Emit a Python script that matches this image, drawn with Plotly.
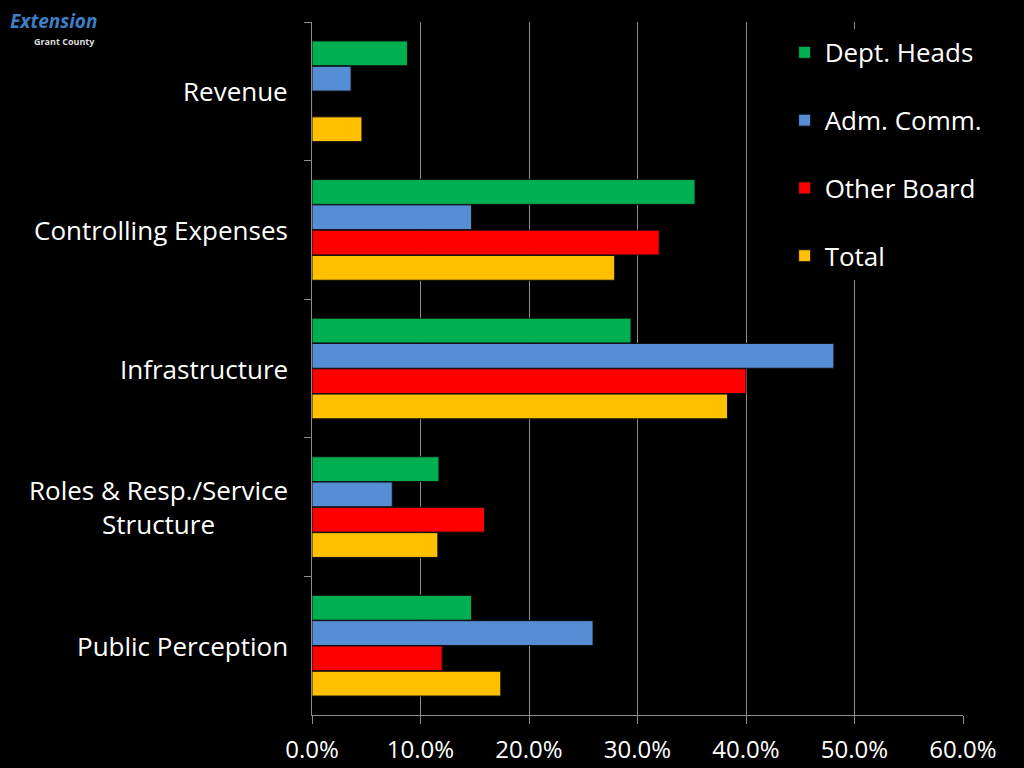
import plotly.graph_objects as go

categories = ["Revenue", "Controlling Expenses", "Infrastructure",
              "Roles & Resp./Service Structure", "Public Perception"]
category_labels = ["Revenue", "Controlling Expenses", "Infrastructure",
                   "Roles & Resp./Service<br>Structure", "Public Perception"]
series_names = ["Dept. Heads", "Adm. Comm.", "Other Board", "Total"]
dept_heads = [8.8, 35.3, 29.4, 11.7, 14.7]
adm_comm = [3.6, 14.7, 48.1, 7.4, 25.9]
other_board = [0.0, 32.0, 40.0, 15.9, 12.0]
total = [4.6, 27.9, 38.3, 11.6, 17.4]
x_ticks = [0, 10, 20, 30, 40, 50, 60]
x_tick_labels = ["0.0%", "10.0%", "20.0%", "30.0%", "40.0%", "50.0%", "60.0%"]

colors = ["#00B050", "#558ED5", "#FF0000", "#FFC000"]
series_values = [dept_heads, adm_comm, other_board, total]

FONT = "Open Sans"

fig = go.Figure()
for i, (name, vals) in enumerate(zip(series_names, series_values)):
    fig.add_trace(go.Bar(
        y=categories, x=vals, name=name, orientation="h",
        marker=dict(color=colors[i], line=dict(color="#111111", width=1)),
        legendgroup=name,
    ))

for cat, lab in zip(categories, category_labels):
    fig.add_annotation(
        xref="paper", yref="y", x=0, y=cat, text=lab, showarrow=False,
        xanchor="right", xshift=-22, align="center",
        font=dict(family=FONT, size=26, color="white"),
    )

# logo text
fig.add_annotation(xref="paper", yref="paper", x=0, y=1, xshift=-304, yshift=16,
                   text="<b><i>Extension</i></b>", showarrow=False,
                   xanchor="left", yanchor="top",
                   font=dict(family=FONT, size=19, color="#3F7FC6"))
fig.add_annotation(xref="paper", yref="paper", x=0, y=1, xshift=-280, yshift=-11,
                   text="<b>Grant County</b>", showarrow=False,
                   xanchor="left", yanchor="top",
                   font=dict(family=FONT, size=9, color="#DDDDDD"))

fig.update_layout(
    width=1024, height=768,
    paper_bgcolor="black", plot_bgcolor="black",
    margin=dict(l=312, r=61, t=22, b=53),
    barmode="group", bargap=0.27, bargroupgap=0.02,
    font=dict(family=FONT, color="white"),
    legend=dict(
        x=0.726, y=0.99, xanchor="left", yanchor="top",
        bgcolor="black", traceorder="grouped", tracegroupgap=31,
        font=dict(family=FONT, size=26, color="white"),
        itemwidth=30,
    ),
    xaxis=dict(
        range=[0, 60], tickvals=x_ticks, ticktext=x_tick_labels,
        showgrid=True, gridcolor="#8C8C8C", gridwidth=1,
        showline=True, linecolor="#8C8C8C", linewidth=1,
        ticks="outside", ticklen=8, tickcolor="#8C8C8C",
        tickfont=dict(family=FONT, size=24, color="white"),
        ticklabelstandoff=5, automargin=False,
        zeroline=False,
    ),
    yaxis=dict(
        autorange="reversed", showticklabels=False,
        showline=True, linecolor="#8C8C8C", linewidth=1,
        ticks="outside", ticklen=7, tickcolor="#8C8C8C",
        tickson="boundaries", showgrid=False, automargin=False,
    ),
)

fig.write_html("out.html", config={"displayModeBar": False},
               post_script="document.body.style.margin='0';document.body.style.background='black';")
